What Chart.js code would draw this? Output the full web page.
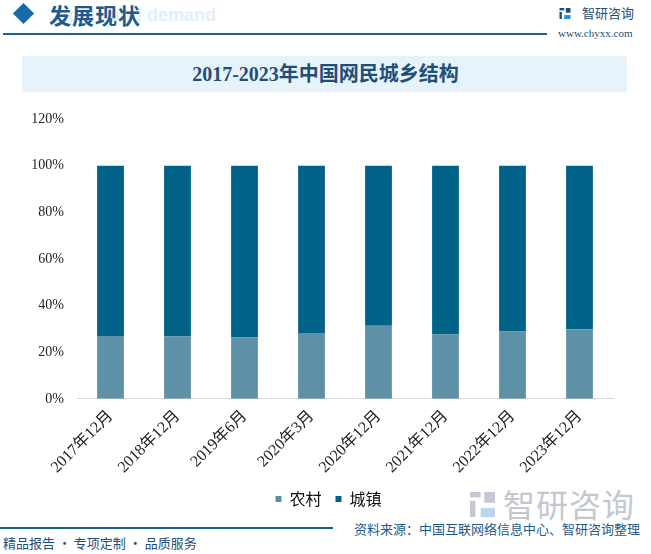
<!DOCTYPE html>
<html><head><meta charset="utf-8">
<script src="https://cdn.jsdelivr.net/npm/chart.js@4"></script>
<style>
html,body{margin:0;padding:0;background:#fff;}
body{width:651px;height:554px;position:relative;overflow:hidden;font-family:'Noto Sans CJK SC',sans-serif;}
.abs{position:absolute;}
#hdrline{left:3px;top:33px;width:544px;height:2px;background:#1f5f8b;}
#diamond{left:16px;top:6px;width:15px;height:15px;background:#1a6aa6;transform:rotate(45deg);}
#hdr{left:49px;top:-2px;font-size:22px;font-weight:bold;color:#1f5a8a;letter-spacing:1px;}
#hdrwm{left:68px;top:5px;font-size:18px;font-weight:bold;color:#e2effa;font-family:'Liberation Sans',sans-serif;}
#logo{left:582px;top:3px;font-size:13px;color:#1f4e79;}
#logoicon{left:559px;top:8px;width:12px;height:11px;}
#url{left:558px;top:27px;font-size:11px;color:#1f4e79;font-family:'Liberation Serif',serif;}
#titlebox{left:22px;top:56px;width:605px;height:36px;background:#e6f3fb;}
#title{left:0;top:56px;width:651px;height:36px;line-height:36px;text-align:center;font-size:20px;font-weight:bold;color:#1f4e79;font-family:'Liberation Serif','Noto Sans CJK SC',serif;}
#cv{left:0;top:100px;width:651px;height:417px;}
#bigwmicon{left:468px;top:492px;width:29px;height:25px;}
#bigwm{left:503px;top:480px;font-size:32px;color:#c4c8ce;letter-spacing:1px;}
#footline{left:0;top:527px;width:333px;height:2px;background:#1f5f8b;}
#src{left:354px;top:519px;font-size:13px;color:#1f5a8a;}
#slogan{left:3px;top:533px;font-size:13px;color:#1f4e79;}
</style></head><body>
<div class="abs" id="hdrwm">pply and demand</div>
<div class="abs" id="diamond"></div>
<div class="abs" id="hdr">发展现状</div>
<div class="abs" id="hdrline"></div>
<svg class="abs" id="logoicon" viewBox="0 0 14 14"><rect x="0" y="0" width="6" height="3" fill="#1f4e79"/><rect x="0" y="5" width="3" height="9" fill="#1f4e79"/><rect x="8" y="0" width="6" height="6" fill="#1f4e79"/><rect x="6" y="9" width="8" height="5" fill="#2a8fd6"/></svg>
<div class="abs" id="logo">智研咨询</div>
<div class="abs" id="url">www.chyxx.com</div>
<div class="abs" id="titlebox"></div>
<div class="abs" id="title">2017-2023年中国网民城乡结构</div>
<svg class="abs" id="bigwmicon" viewBox="0 0 14 14"><rect x="0" y="0" width="6" height="3" fill="#c4c8d2"/><rect x="0" y="5" width="3" height="9" fill="#c4c8d2"/><rect x="8" y="0" width="6" height="6" fill="#c4c8d2"/><rect x="6" y="9" width="8" height="5" fill="#b9d6ee"/></svg>
<div class="abs" id="bigwm">智研咨询</div>
<div class="abs" id="cv"><canvas id="c" width="651" height="417"></canvas></div>
<div class="abs" id="footline"></div>
<div class="abs" id="src">资料来源：中国互联网络信息中心、智研咨询整理</div>
<div class="abs" id="slogan">精品报告 · 专项定制 · 品质服务</div>
<script>
const categories = ['2017年12月','2018年12月','2019年6月','2020年3月','2020年12月','2021年12月','2022年12月','2023年12月'];
const rural = [27.0, 26.7, 26.3, 28.2, 31.3, 27.6, 28.9, 29.8];
const urban = [73.0, 73.3, 73.7, 71.8, 68.7, 72.4, 71.1, 70.2];
const yTicks = [0, 20, 40, 60, 80, 100, 120];

const shiftLegend = {
  id: 'shiftLegend',
  afterLayout(chart) {
    if (chart.legend) { chart.legend.left += 22; chart.legend.right += 22; }
  }
};

new Chart(document.getElementById('c'), {
  type: 'bar',
  data: {
    labels: categories,
    datasets: [
      {label: '农村', data: rural, backgroundColor: '#5e91a8', barPercentage: 0.8, categoryPercentage: 0.5},
      {label: '城镇', data: urban, backgroundColor: '#006287', barPercentage: 0.8, categoryPercentage: 0.5}
    ]
  },
  plugins: [shiftLegend],
  options: {
    responsive: false,
    animation: false,
    layout: {padding: {top: 19, right: 38, left: 0, bottom: 0}},
    plugins: {
      tooltip: {enabled: false},
      legend: {
        position: 'bottom',
        labels: {boxWidth: 6, boxHeight: 6, color: '#111', font: {size: 16, family: "'Noto Sans CJK SC'"}, padding: 14}
      }
    },
    scales: {
      x: {
        stacked: true,
        grid: {display: false},
        border: {color: '#d9d9d9'},
        ticks: {minRotation: 45, maxRotation: 45, color: '#222', font: {size: 16, family: "'Liberation Serif','Noto Sans CJK SC'"}, padding: 0}
      },
      y: {
        stacked: true,
        min: 0, max: 120,
        grid: {display: false},
        border: {display: false},
        afterBuildTicks: s => { s.ticks = yTicks.map(v => ({value: v})); },
        afterFit: s => { s.width = 77; },
        ticks: {color: '#222', font: {size: 14, family: "'Liberation Serif'"}, padding: 5, callback: v => v + '%'}
      }
    }
  }
});
</script>
</body></html>
